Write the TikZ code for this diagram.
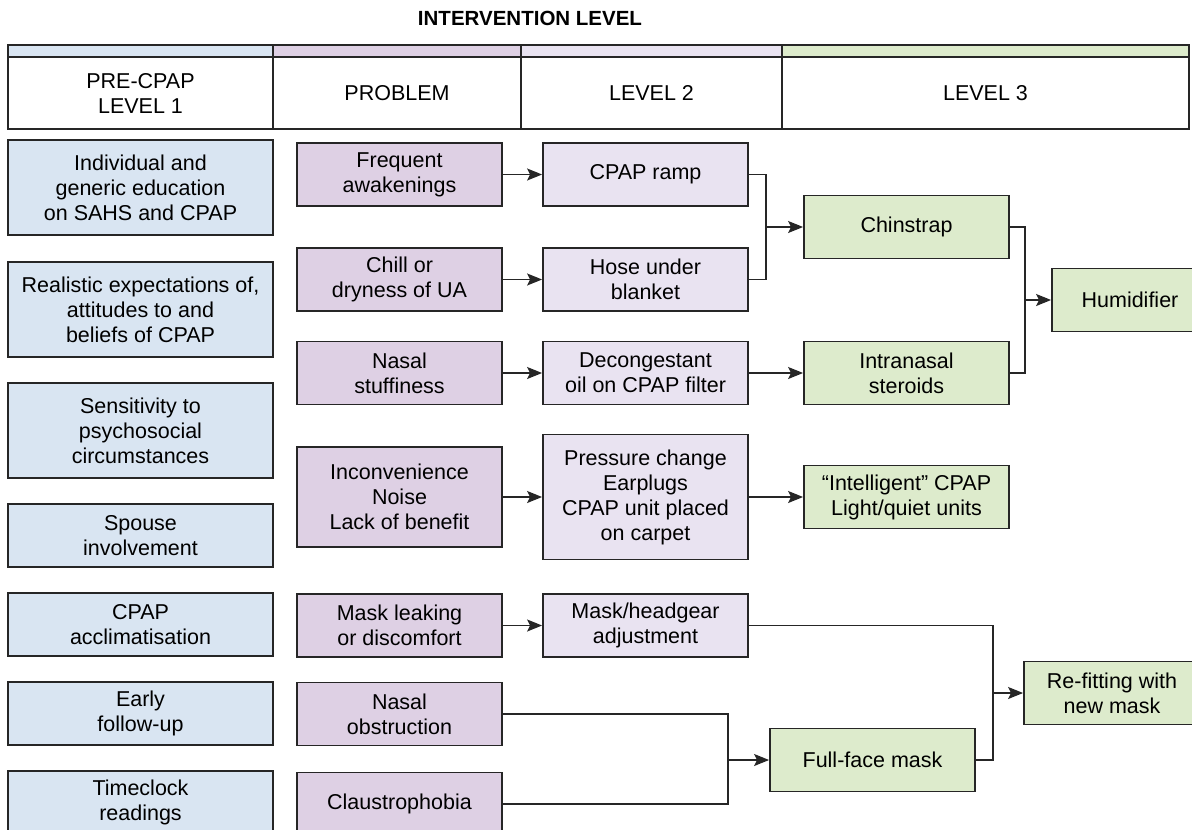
\documentclass[tikz,border=0pt]{standalone}
\usepackage{fontspec}
\setmainfont{Liberation Sans}
\usetikzlibrary{arrows.meta}
\definecolor{cpB}{RGB}{217,229,242}
\definecolor{cpP}{RGB}{222,208,228}
\definecolor{cpL}{RGB}{233,227,241}
\definecolor{cpG}{RGB}{221,235,204}
\definecolor{cpK}{RGB}{38,38,38}

\begin{document}
\begin{tikzpicture}[x=1pt,y=-1pt,
  box/.style={draw=cpK,line width=1.8pt,align=center,inner sep=0pt,minimum width=205pt,minimum height=63pt,font=\fontsize{21.5}{25}\selectfont},
  lnk/.style={cpK,line width=1.6pt},
  arr/.style={lnk,-{Stealth[length=15pt,width=12pt,inset=3pt]}}]
\useasboundingbox (0,0) rectangle (1192,830);
\node[font=\fontsize{20.5}{24}\selectfont\bfseries] (T) at (530,18) {INTERVENTION LEVEL};
\fill[cpB] (8,45) rectangle (273,57);
\fill[cpP] (273,45) rectangle (521,57);
\fill[cpL] (521,45) rectangle (782,57);
\fill[cpG] (782,45) rectangle (1189,57);
\draw[cpK,line width=1.8pt] (8,45) rectangle (1189,129) (8,57) -- (1189,57);
\draw[cpK,line width=1.8pt] (273,45) -- (273,129) (521,45) -- (521,129) (782,45) -- (782,129);
\node[align=center,font=\fontsize{21.5}{25}\selectfont] (h1) at (140.5,93) {PRE-CPAP\\LEVEL 1};
\node[font=\fontsize{21.5}{25}\selectfont] (h2) at (397,93) {PROBLEM};
\node[font=\fontsize{21.5}{25}\selectfont] (h3) at (651.5,93) {LEVEL 2};
\node[font=\fontsize{21.5}{25}\selectfont] (h4) at (985.5,93) {LEVEL 3};
\node[box,fill=cpB,minimum width=265pt,minimum height=95pt] (L1) at (140.5,187.5) {Individual and\\generic education\\on SAHS and CPAP};
\node[box,fill=cpB,minimum width=265pt,minimum height=95pt] (L2) at (140.5,309.5) {Realistic expectations of,\\attitudes to and\\beliefs of CPAP};
\node[box,fill=cpB,minimum width=265pt,minimum height=95pt] (L3) at (140.5,430.5) {Sensitivity to\\psychosocial\\circumstances};
\node[box,fill=cpB,minimum width=265pt] (L4) at (140.5,535.5) {Spouse\\involvement};
\node[box,fill=cpB,minimum width=265pt] (L5) at (140.5,624.5) {CPAP\\acclimatisation};
\node[box,fill=cpB,minimum width=265pt] (L6) at (140.5,713.5) {Early\\follow-up};
\node[box,fill=cpB,minimum width=265pt] (L7) at (140.5,802.5) {Timeclock\\readings};
\node[box,fill=cpP] (P1) at (399.5,174.5) {Frequent\\awakenings};
\node[box,fill=cpP] (P2) at (399.5,279.5) {Chill or\\dryness of UA};
\node[box,fill=cpP] (P3) at (399.5,373) {Nasal\\stuffiness};
\node[box,fill=cpP,minimum height=100pt] (P4) at (399.5,497) {Inconvenience\\Noise\\Lack of benefit};
\node[box,fill=cpP] (P5) at (399.5,625.5) {Mask leaking\\or discomfort};
\node[box,fill=cpP] (P6) at (399.5,714) {Nasal\\obstruction};
\node[box,fill=cpP] (P7) at (399.5,804) {Claustrophobia};
\node[box,fill=cpL] (M1) at (645.5,174.5) {CPAP ramp};
\node[box,fill=cpL] (M2) at (645.5,279.5) {Hose under\\blanket};
\node[box,fill=cpL] (M3) at (645.5,373) {Decongestant\\oil on CPAP filter};
\node[box,fill=cpL,minimum height=125pt] (M4) at (645.5,497) {Pressure change\\Earplugs\\CPAP unit placed\\on carpet};
\node[box,fill=cpL] (M5) at (645.5,625.5) {Mask/headgear\\adjustment};
\node[box,fill=cpG] (C) at (906.5,227) {Chinstrap};
\node[box,fill=cpG] (I) at (906.5,373) {Intranasal\\steroids};
\node[box,fill=cpG] (Q) at (906.5,497) {“Intelligent” CPAP\\Light/quiet units};
\node[box,fill=cpG,minimum width=156pt] (H) at (1130,300) {Humidifier};
\node[box,fill=cpG] (F) at (872.5,760) {Full-face mask};
\node[box,fill=cpG,minimum width=176pt] (R) at (1112,693) {Re-fitting with\\new mask};
\draw[arr] (P1) -- (M1);
\draw[arr] (P2) -- (M2);
\draw[arr] (P3) -- (M3);
\draw[arr] (P4) -- (M4);
\draw[arr] (P5) -- (M5);
\draw[arr] (M3) -- (I);
\draw[arr] (M4) -- (Q);
\coordinate (j1) at (766,227);
\coordinate (j2) at (1025,300);
\coordinate (j3) at (993,693);
\coordinate (j4) at (728,760);
\draw[lnk] (M1.east) -| (j1) |- (M2.east);
\draw[arr] (j1) -- (C);
\draw[lnk] (C.east) -| (j2) |- (I.east);
\draw[arr] (j2) -- (H);
\draw[lnk] (M5.east) -| (j3) |- (F.east);
\draw[arr] (j3) -- (R);
\draw[lnk] (P6.east) -| (j4) |- (P7.east);
\draw[arr] (j4) -- (F);
\end{tikzpicture}
\end{document}
